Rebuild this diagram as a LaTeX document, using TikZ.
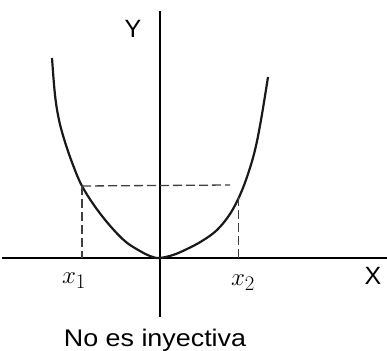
\documentclass[tikz,border=0pt]{standalone}
\usepackage{fontspec}
\setsansfont{Liberation Sans}
\begin{document}
\begin{tikzpicture}[x=1pt,y=-1pt,
  axis/.style={line width=2.2pt,black},
  curve/.style={line width=2.2pt,black!90},
  guide/.style={line width=1.3pt,black!75,dash pattern=on 9pt off 4pt},
  axlabel/.style={font=\sffamily\fontsize{25}{25}\selectfont,inner sep=0pt},
  xlabel/.style={font=\fontsize{30}{30}\selectfont,inner sep=0pt}]
\useasboundingbox (0,0) rectangle (387,350);
% axes
\coordinate (xl) at (2,258);
\coordinate (xr) at (387,258);
\coordinate (yt) at (160,11);
\coordinate (yb) at (160,317);
\draw[axis] (xl) -- (xr);
\draw[axis] (yt) -- (yb);
\node[axlabel] (Y) at (133,29) {Y};
\node[axlabel] (X) at (373,276) {X};
% curve
\coordinate (p1) at (82,186);
\coordinate (p2) at (238,197);
\draw[curve] plot[smooth,tension=0.6] coordinates {(52,58) (55,95) (59,120) (65,142) (73,165) (82,186) (96,208) (112,228) (126,242) (140,251) (150,256) (159,258) (173,255) (187,249) (202,241) (217,230) (230,214) (240,195) (248,174) (255,150) (261,120) (268,77)};
% guides
\coordinate (h2) at (230,185);
\coordinate (b1) at (82,258);
\coordinate (b2) at (238,258);
\draw[guide] (p1) -- (h2);
\draw[guide] (p1) -- (b1);
\draw[guide,line width=0.9pt] (p2) -- (b2);
% labels
\node[xlabel] (x1) at (74,281) {$x_1$};
\node[xlabel] (x2) at (243,283) {$x_2$};
\node[font=\sffamily\fontsize{24}{24}\selectfont,xscale=1.12,inner sep=0pt,anchor=base] (t) at (155,346) {No es inyectiva};
\end{tikzpicture}
\end{document}
